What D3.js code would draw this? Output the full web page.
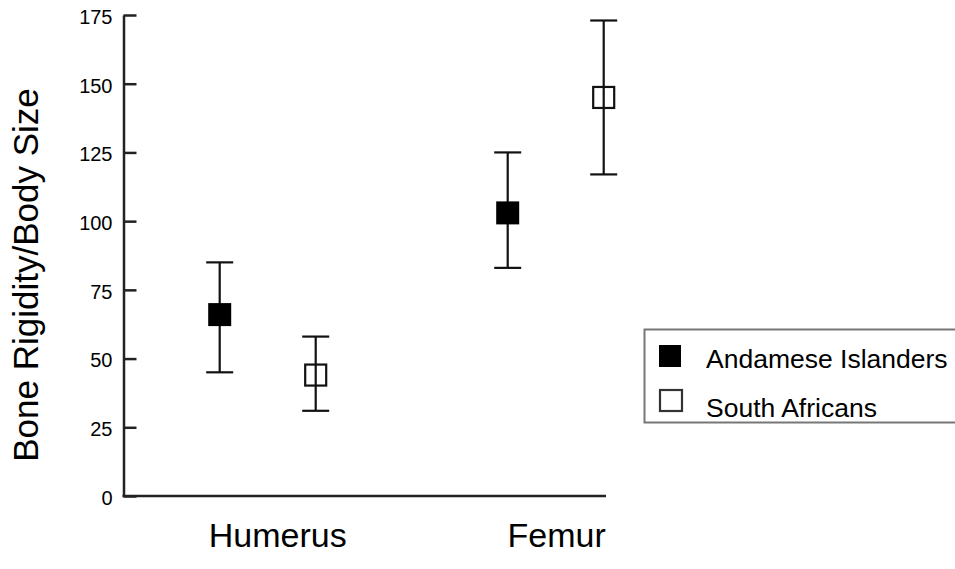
<!DOCTYPE html>
<html>
<head>
<meta charset="utf-8">
<script src="https://cdn.jsdelivr.net/npm/d3@7"></script>
<style>
  body { margin: 0; background: #fff; }
  svg { display: block; font-family: "Liberation Sans", Arial, Helvetica, sans-serif; }
</style>
</head>
<body>
<svg id="chart" width="955" height="569"></svg>
<script>
const bones = ["Humerus", "Femur"];
const groups = ["Andamese Islanders", "South Africans"];
const means = [[66, 103], [44, 145]];
const lows = [[45, 83], [31, 117]];
const highs = [[85, 125], [58, 173]];
const yTicks = [0, 25, 50, 75, 100, 125, 150, 175];

const svg = d3.select('#chart');
const axisX = 123.5;
const markSize = 23;
const capWidth = 27;

const y = d3.scaleLinear()
    .domain([0, 175])
    .range([496, 15]);

const x = d3.scalePoint()
    .domain(bones)
    .range([267.7, 555.7]);

const offset = d3.scalePoint()
    .domain(groups)
    .range([-48, 48]);

// y axis, ticks pointing into the plot
const yAxis = svg.append('g')
    .attr('transform', `translate(${axisX},0)`)
    .call(d3.axisLeft(y)
        .tickValues(yTicks)
        .tickSizeInner(-13)
        .tickSizeOuter(0)
        .tickPadding(11));

yAxis.select('.domain').attr('stroke', '#222').attr('stroke-width', 2.5);
yAxis.selectAll('.tick line').attr('stroke', '#222').attr('stroke-width', 2.5);
yAxis.selectAll('.tick text')
    .attr('font-size', '20px')
    .attr('font-family', '"Liberation Sans", Arial, sans-serif')
    .attr('fill', '#000')
    .attr('dy', '0.42em');

// x axis line
svg.append('line')
    .attr('x1', axisX - 1)
    .attr('x2', 606)
    .attr('y1', y(0))
    .attr('y2', y(0))
    .attr('stroke', '#222')
    .attr('stroke-width', 2.5);

svg.selectAll('.bone-label')
    .data(bones)
    .join('text')
    .attr('class', 'bone-label')
    .attr('x', d => x(d) + (d === 'Humerus' ? 10 : 1))
    .attr('y', 546.5)
    .attr('text-anchor', 'middle')
    .attr('font-size', '34px')
    .attr('fill', '#000')
    .text(d => d);

svg.append('text')
    .attr('transform', 'translate(38,275) rotate(-90)')
    .attr('text-anchor', 'middle')
    .attr('font-size', '35px')
    .attr('fill', '#000')
    .text('Bone Rigidity/Body Size');

// points with error bars
const points = [];
groups.forEach((g, gi) => {
    bones.forEach((b, bi) => {
        points.push({ group: g, gi: gi, bone: b, mean: means[gi][bi], low: lows[gi][bi], high: highs[gi][bi] });
    });
});

const marks = svg.selectAll('.pt')
    .data(points)
    .join('g')
    .attr('class', 'pt')
    .attr('transform', d => `translate(${x(d.bone) + offset(d.group)},0)`);

marks.append('line')
    .attr('y1', d => y(d.low))
    .attr('y2', d => y(d.high))
    .attr('stroke', '#111')
    .attr('stroke-width', 2.2);

marks.selectAll('.cap')
    .data(d => [d.low, d.high])
    .join('line')
    .attr('class', 'cap')
    .attr('x1', -capWidth / 2)
    .attr('x2', capWidth / 2)
    .attr('y1', v => y(v))
    .attr('y2', v => y(v))
    .attr('stroke', '#111')
    .attr('stroke-width', 2.2);

marks.append('rect')
    .attr('x', d => d.gi === 0 ? -markSize / 2 : -markSize / 2 + 1)
    .attr('y', d => y(d.mean) - (d.gi === 0 ? markSize / 2 : markSize / 2 - 1))
    .attr('width', d => d.gi === 0 ? markSize : markSize - 2)
    .attr('height', d => d.gi === 0 ? markSize : markSize - 2)
    .attr('fill', d => d.gi === 0 ? '#000' : 'none')
    .attr('stroke', '#111')
    .attr('stroke-width', d => d.gi === 0 ? 0 : 2.2);

// legend
const legend = svg.append('g');

legend.append('rect')
    .attr('x', 644.5)
    .attr('y', 329.5)
    .attr('width', 330)
    .attr('height', 93)
    .attr('fill', '#fff')
    .attr('stroke', '#777')
    .attr('stroke-width', 2);

const legendRows = legend.selectAll('.row')
    .data(groups)
    .join('g')
    .attr('class', 'row')
    .attr('transform', (d, i) => `translate(0,${i * 45})`);

legendRows.append('rect')
    .attr('x', (d, i) => i === 0 ? 659 : 660)
    .attr('y', 345)
    .attr('width', 22)
    .attr('height', (d, i) => i === 0 ? 22 : 21)
    .attr('fill', (d, i) => i === 0 ? '#000' : '#fff')
    .attr('stroke', (d, i) => i === 0 ? 'none' : '#333')
    .attr('stroke-width', 2.2);

legendRows.append('text')
    .attr('x', 706)
    .attr('y', (d, i) => i === 0 ? 368 : 372)
    .attr('font-size', '26.5px')
    .attr('fill', '#000')
    .text(d => d);
</script>
</body>
</html>
